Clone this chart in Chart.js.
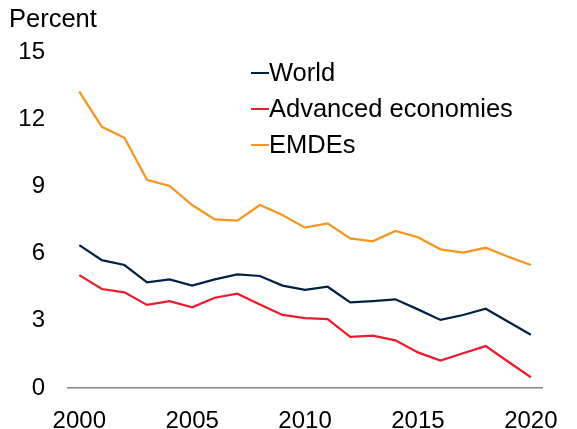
<!DOCTYPE html>
<html>
<head>
<meta charset="utf-8">
<script src="https://cdn.jsdelivr.net/npm/chart.js@4"></script>
<style>
html,body{margin:0;padding:0;background:#fff;}
#wrap{width:577px;height:429px;}
</style>
</head>
<body>
<div id="wrap"><canvas id="c" width="577" height="429"></canvas></div>
<script>
const years = ["2000","2001","2002","2003","2004","2005","2006","2007","2008","2009","2010","2011","2012","2013","2014","2015","2016","2017","2018","2019","2020"];
const world = [6.38,5.71,5.49,4.72,4.85,4.57,4.85,5.07,5.00,4.57,4.38,4.52,3.82,3.88,3.96,3.51,3.04,3.26,3.54,2.96,2.38];
const advanced = [5.04,4.42,4.27,3.71,3.88,3.60,4.03,4.21,3.73,3.26,3.12,3.08,2.28,2.34,2.13,1.59,1.22,1.55,1.87,1.17,0.48];
const emdes = [13.23,11.66,11.17,9.29,9.02,8.17,7.53,7.47,8.17,7.72,7.16,7.35,6.68,6.55,7.01,6.73,6.19,6.04,6.26,5.86,5.49];
const seriesNames = ["World","Advanced economies","EMDEs"];
const yTicks = [0,3,6,9,12,15];
const unitLabel = "Percent";

const FONT = '"Liberation Sans", Arial, sans-serif';
const colors = ["#002345","#EB1C2D","#F7941E"];

const insideLegend = {
  id: 'insideLegend',
  afterDatasetsDraw(chart) {
    const ctx = chart.ctx;
    const ca = chart.chartArea;
    const x0 = ca.left + 183, y0 = ca.top + 21, gap = 36;
    ctx.save();
    ctx.font = '25.5px ' + FONT;
    ctx.textBaseline = 'middle';
    ctx.textAlign = 'left';
    chart.data.datasets.forEach((ds, i) => {
      const y = y0 + i * gap;
      ctx.strokeStyle = ds.borderColor;
      ctx.lineWidth = 2;
      ctx.beginPath();
      ctx.moveTo(x0, y);
      ctx.lineTo(x0 + 18, y);
      ctx.stroke();
      ctx.fillStyle = '#000';
      ctx.fillText(ds.label, x0 + 18, y + 1);
    });
    ctx.restore();
  }
};

new Chart(document.getElementById('c'), {
  type: 'line',
  data: {
    labels: years,
    datasets: [
      {label: seriesNames[0], data: world, borderColor: colors[0], backgroundColor: colors[0]},
      {label: seriesNames[1], data: advanced, borderColor: colors[1], backgroundColor: colors[1]},
      {label: seriesNames[2], data: emdes, borderColor: colors[2], backgroundColor: colors[2]}
    ]
  },
  options: {
    responsive: false,
    animation: false,
    devicePixelRatio: 1,
    layout: {padding: {left: 9, right: 20, top: 0, bottom: 0}},
    elements: {
      point: {radius: 0},
      line: {borderWidth: 2.25, tension: 0}
    },
    plugins: {
      legend: {display: false},
      tooltip: {enabled: false},
      title: {
        display: true,
        text: unitLabel,
        align: 'start',
        color: '#000',
        font: {family: FONT, size: 25.5, weight: 'normal'},
        padding: {top: 5, bottom: 16.4}
      }
    },
    scales: {
      x: {
        type: 'category',
        offset: true,
        grid: {display: false, drawTicks: false, tickLength: 0},
        border: {display: true, color: '#858585', width: 1.5},
        ticks: {
          autoSkip: false,
          maxRotation: 0,
          padding: 19,
          color: '#000',
          font: {family: FONT, size: 24},
          callback: function(v, i) { const l = this.getLabelForValue(v); return (parseInt(l) % 5 === 0) ? l : ''; }
        },
        afterFit(axis) { axis.height = 41; }
      },
      y: {
        min: 0, max: 15,
        grid: {display: false, drawTicks: false, tickLength: 0},
        border: {display: false},
        afterBuildTicks(axis) { axis.ticks = yTicks.map(v => ({value: v})); },
        ticks: {
          padding: 23,
          color: '#000',
          font: {family: FONT, size: 24}
        },
        afterFit(axis) { axis.width = 59; }
      }
    }
  },
  plugins: [insideLegend]
});
</script>
</body>
</html>
